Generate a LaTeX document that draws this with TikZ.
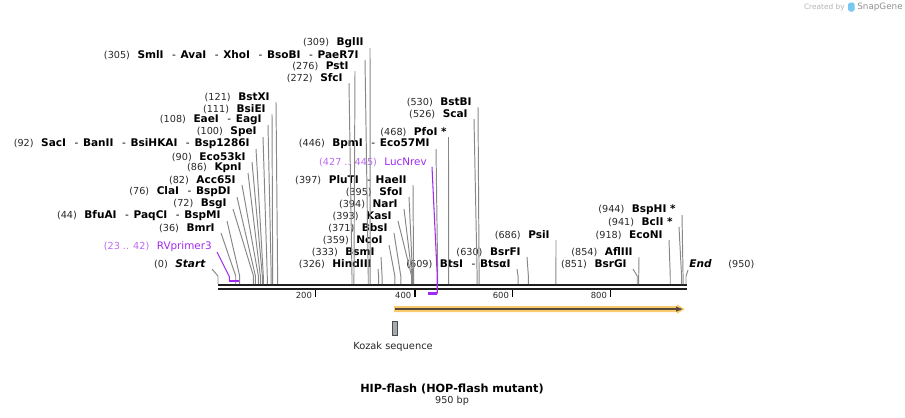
\documentclass[tikz,border=0pt]{standalone}
\usepackage{fontspec}
\setmainfont{DejaVu Sans}
\usetikzlibrary{calc}
\definecolor{primer}{RGB}{160,40,240}
\definecolor{featfill}{RGB}{250,202,110}
\definecolor{featline}{RGB}{88,74,56}
\definecolor{kozakfill}{RGB}{165,170,176}
\definecolor{numgray}{RGB}{40,40,40}
\definecolor{leadgray}{RGB}{135,135,135}
\definecolor{markgray}{RGB}{180,180,180}
\definecolor{logoblue}{RGB}{120,200,240}
\newcommand{\numfont}{\fontsize{5.5}{6.5}\selectfont\mdseries\color{numgray}}
\newcommand{\pos}[1]{{\numfont(#1)}\hspace{4.3pt}}
\newcommand{\sep}{\hspace{4.8pt}{\mdseries-}\hspace{2.7pt}}
\newcommand{\bpx}[1]{218+0.49263*#1}
\tikzstyle{enz}=[anchor=east, inner sep=0pt, font=\fontsize{6}{7}\selectfont\bfseries]
\tikzstyle{primerlabel}=[anchor=east, inner sep=0pt, font=\fontsize{5.9}{7}\selectfont, text=primer]
\tikzstyle{cut}=[draw=leadgray, line width=0.55pt]
\tikzstyle{primercut}=[draw=primer, line width=0.6pt]
\tikzstyle{backbone}=[draw=black!88, line width=1.3pt]
\tikzstyle{tick}=[draw=black, line width=0.85pt]
\tikzstyle{ticklabel}=[anchor=east, inner sep=0pt, font=\fontsize{4.8}{5.5}\selectfont, text=numgray]
\tikzstyle{caption}=[inner sep=0pt, font=\fontsize{5.6}{6.5}\selectfont, text=black!85]

\begin{document}
\begin{tikzpicture}[x=0.02cm, y=-0.02cm]
\useasboundingbox (0,0) rectangle (905,417);

\node (created) [anchor=east, inner sep=0pt, font=\fontsize{4.2}{5}\selectfont, text=markgray] at (845,7) {Created by};
\fill[logoblue, rounded corners=1pt] (848,2.5) rectangle (854.5,11.5);
\node (snapgene) [anchor=west, inner sep=0pt, font=\fontsize{5}{6}\selectfont, text=markgray!80!black] at (857,7) {SnapGene};

\draw[backbone] (218,285.1) -- (686.5,285.1);
\draw[backbone] (218,288.9) -- (686.5,288.9);
\coordinate (bbtop) at (218,284);

\draw[tick] (315.7,290) -- (315.7,296.5);
\draw[tick] (415,290) -- (415,296.5);
\draw[tick] (512.7,290) -- (512.7,296.5);
\draw[tick] (610.7,290) -- (610.7,296.5);
\node (t200) [ticklabel] at (312.3,295.5) {200};
\node (t400) [ticklabel] at (411.6,295.5) {400};
\node (t600) [ticklabel] at (509.3,295.5) {600};
\node (t800) [ticklabel] at (607.3,295.5) {800};

\coordinate (c0) at ({\bpx{0}},284);
\coordinate (c36) at ({\bpx{36}},284);
\coordinate (c44) at ({\bpx{44}},284);
\coordinate (c72) at ({\bpx{72}},284);
\coordinate (c76) at ({\bpx{76}},284);
\coordinate (c82) at ({\bpx{82}},284);
\coordinate (c86) at ({\bpx{86}},284);
\coordinate (c90) at ({\bpx{90}},284);
\coordinate (c92) at ({\bpx{92}},284);
\coordinate (c100) at ({\bpx{100}},284);
\coordinate (c108) at ({\bpx{108}},284);
\coordinate (c111) at ({\bpx{111}},284);
\coordinate (c121) at ({\bpx{121}},284);
\coordinate (c272) at ({\bpx{272}},284);
\coordinate (c276) at ({\bpx{276}},284);
\coordinate (c305) at ({\bpx{305}},284);
\coordinate (c309) at ({\bpx{309}},284);
\coordinate (c326) at ({\bpx{326}},284);
\coordinate (c333) at ({\bpx{333}},284);
\coordinate (c359) at ({\bpx{359}},284);
\coordinate (c371) at ({\bpx{371}},284);
\coordinate (c393) at ({\bpx{393}},284);
\coordinate (c394) at ({\bpx{394}},284);
\coordinate (c395) at ({\bpx{395}},284);
\coordinate (c397) at ({\bpx{397}},284);
\coordinate (c446) at ({\bpx{446}},284);
\coordinate (c468) at ({\bpx{468}},284);
\coordinate (c526) at ({\bpx{526}},284);
\coordinate (c530) at ({\bpx{530}},284);
\coordinate (c609) at ({\bpx{609}},284);
\coordinate (c630) at ({\bpx{630}},284);
\coordinate (c686) at ({\bpx{686}},284);
\coordinate (c851) at ({\bpx{851}},284);
\coordinate (c854) at ({\bpx{854}},284);
\coordinate (c918) at ({\bpx{918}},284);
\coordinate (c941) at ({\bpx{941}},284);
\coordinate (c944) at ({\bpx{944}},284);
\coordinate (c950) at ({\bpx{950}},284);
\coordinate (rvstart) at ({\bpx{23}},280.7);
\coordinate (rvend) at ({\bpx{42}},280.7);
\coordinate (lucstart) at ({\bpx{427}},293.5);
\coordinate (lucend) at ({\bpx{445}},293.5);

\node (n309) [enz] at (364,43) {\pos{309}BglII};
\node (n305) [enz] at (359,55) {\pos{305}SmlI\sep AvaI\sep XhoI\sep BsoBI\sep PaeR7I};
\node (n276) [enz] at (349,66) {\pos{276}PstI};
\node (n272) [enz] at (343,78) {\pos{272}SfcI};
\node (n121) [enz] at (270,97) {\pos{121}BstXI};
\node (n111) [enz] at (266,109) {\pos{111}BsiEI};
\node (n108) [enz] at (262,120) {\pos{108}EaeI\sep EagI};
\node (n100) [enz] at (257,132) {\pos{100}SpeI};
\node (n92) [enz] at (250,144) {\pos{92}SacI\sep BanII\sep BsiHKAI\sep Bsp1286I};
\node (n90) [enz] at (246,157) {\pos{90}Eco53kI};
\node (n86) [enz] at (242,168) {\pos{86}KpnI};
\node (n82) [enz] at (236,180) {\pos{82}Acc65I};
\node (n76) [enz] at (231,192) {\pos{76}ClaI\sep BspDI};
\node (n72) [enz] at (227,204) {\pos{72}BsgI};
\node (n44) [enz] at (221,216) {\pos{44}BfuAI\sep PaqCI\sep BspMI};
\node (n36) [enz] at (215,228) {\pos{36}BmrI};
\node (rvprimer) [primerlabel] at (212,247) {{\numfont\color{primer!70}(23 .. 42)}\hspace{4.3pt}RVprimer3};
\node (start) [enz] at (206,264) {\pos{0}\textit{Start}};
\node (n530) [enz] at (472,102) {\pos{530}BstBI};
\node (n526) [enz] at (468,114) {\pos{526}ScaI};
\node (n468) [enz] at (447,132) {\pos{468}PfoI *};
\node (n446) [enz] at (430,144) {\pos{446}BpmI\sep Eco57MI};
\node (lucnrev) [primerlabel] at (427,162) {{\numfont\color{primer!70}(427 .. 445)}\hspace{4.3pt}LucNrev};
\node (n397) [enz] at (407,180) {\pos{397}PluTI\sep HaeII};
\node (n395) [enz] at (403,192) {\pos{395}SfoI};
\node (n394) [enz] at (398,204) {\pos{394}NarI};
\node (n393) [enz] at (392,216) {\pos{393}KasI};
\node (n371) [enz] at (388,228) {\pos{371}BbsI};
\node (n359) [enz] at (383,240) {\pos{359}NcoI};
\node (n333) [enz] at (375,252) {\pos{333}BsmI};
\node (n326) [enz] at (372,264) {\pos{326}HindIII};
\node (n630) [enz] at (521,252) {\pos{630}BsrFI};
\node (n609) [enz] at (511,264) {\pos{609}BtsI\sep BtsαI};
\node (n686) [enz] at (550,235) {\pos{686}PsiI};
\node (n944) [enz] at (676,210) {\pos{944}BspHI *};
\node (n941) [enz] at (673,222) {\pos{941}BclI *};
\node (n918) [enz] at (663,235) {\pos{918}EcoNI};
\node (n854) [enz] at (633,252) {\pos{854}AflIII};
\node (n851) [enz] at (627,264) {\pos{851}BsrGI};
\node (endlabel) [enz, anchor=west] at (689,264) {\textit{End}\hspace{9.5pt}{\numfont(950)}};

\draw[cut] ([shift={(6,5)}]n309.east) -- ($(c309)+(0,-8)$) -- (c309);
\draw[cut] ([shift={(6,5)}]n305.east) -- ($(c305)+(0,-8)$) -- (c305);
\draw[cut] ([shift={(6,5)}]n276.east) -- ($(c276)+(0,-8)$) -- (c276);
\draw[cut] ([shift={(6,5)}]n272.east) -- ($(c272)+(0,-8)$) -- (c272);
\draw[cut] ([shift={(6,5)}]n121.east) -- ($(c121)+(0,-8)$) -- (c121);
\draw[cut] ([shift={(6,5)}]n111.east) -- ($(c111)+(0,-8)$) -- (c111);
\draw[cut] ([shift={(6,5)}]n108.east) -- ($(c108)+(0,-8)$) -- (c108);
\draw[cut] ([shift={(6,5)}]n100.east) -- ($(c100)+(0,-8)$) -- (c100);
\draw[cut] ([shift={(6,5)}]n92.east) -- ($(c92)+(0,-8)$) -- (c92);
\draw[cut] ([shift={(6,5)}]n90.east) -- ($(c90)+(0,-8)$) -- (c90);
\draw[cut] ([shift={(6,5)}]n86.east) -- ($(c86)+(0,-8)$) -- (c86);
\draw[cut] ([shift={(6,5)}]n82.east) -- ($(c82)+(0,-8)$) -- (c82);
\draw[cut] ([shift={(6,5)}]n76.east) -- ($(c76)+(0,-8)$) -- (c76);
\draw[cut] ([shift={(6,5)}]n72.east) -- ($(c72)+(0,-8)$) -- (c72);
\draw[cut] ([shift={(6,5)}]n44.east) -- ($(c44)+(0,-8)$) -- (c44);
\draw[cut] ([shift={(6,5)}]n36.east) -- ($(c36)+(0,-8)$) -- (c36);
\draw[cut] ([shift={(6,5)}]start.east) -- ($(c0)+(0,-8)$) -- (c0);
\draw[cut] ([shift={(6,5)}]n530.east) -- ($(c530)+(0,-8)$) -- (c530);
\draw[cut] ([shift={(6,5)}]n526.east) -- ($(c526)+(0,-8)$) -- (c526);
\draw[cut] ([shift={(1.5,5)}]n468.east) -- ($(c468)+(0,-8)$) -- (c468);
\draw[cut] ([shift={(6,5)}]n446.east) -- ($(c446)+(0,-8)$) -- (c446);
\draw[cut] ([shift={(6,5)}]n397.east) -- ($(c397)+(0,-8)$) -- (c397);
\draw[cut] ([shift={(6,5)}]n395.east) -- ($(c395)+(0,-8)$) -- (c395);
\draw[cut] ([shift={(6,5)}]n394.east) -- ($(c394)+(0,-8)$) -- (c394);
\draw[cut] ([shift={(6,5)}]n393.east) -- ($(c393)+(0,-8)$) -- (c393);
\draw[cut] ([shift={(6,5)}]n371.east) -- ($(c371)+(0,-8)$) -- (c371);
\draw[cut] ([shift={(6,5)}]n359.east) -- ($(c359)+(0,-8)$) -- (c359);
\draw[cut] ([shift={(6,5)}]n333.east) -- ($(c333)+(0,-8)$) -- (c333);
\draw[cut] ([shift={(6,5)}]n326.east) -- ($(c326)+(0,-8)$) -- (c326);
\draw[cut] ([shift={(6,5)}]n630.east) -- ($(c630)+(0,-8)$) -- (c630);
\draw[cut] ([shift={(6,5)}]n609.east) -- ($(c609)+(0,-8)$) -- (c609);
\draw[cut] ([shift={(6,5)}]n686.east) -- ($(c686)+(0,-8)$) -- (c686);
\draw[cut] ([shift={(6,5)}]n944.east) -- ($(c944)+(0,-8)$) -- (c944);
\draw[cut] ([shift={(6,5)}]n941.east) -- ($(c941)+(0,-8)$) -- (c941);
\draw[cut] ([shift={(6,5)}]n918.east) -- ($(c918)+(0,-8)$) -- (c918);
\draw[cut] ([shift={(6,5)}]n854.east) -- ($(c854)+(0,-8)$) -- (c854);
\draw[cut] ([shift={(6,5)}]n851.east) -- ($(c851)+(0,-8)$) -- (c851);
\draw[cut] ([shift={(-1,6)}]endlabel.west) -- ($(c950)+(0,-8)$) -- (c950);

\draw[primercut] ([shift={(5,5)}]rvprimer.east) -- ($(rvstart)+(0,-4)$) -- (rvstart);
\draw[primer, line width=1.2pt] (rvstart) -- (rvend);
\draw[primercut] ([shift={(5,5)}]lucnrev.east) -- ($(lucend)+(0,-18)$) -- (lucend);
\draw[primer, line width=1.2pt] (lucstart) -- (lucend);

\fill[featfill] (394,306.2) -- (677,306.2) -- (677,304.3) -- (684.5,309.1) -- (677,313.9) -- (677,312) -- (394,312) -- cycle;
\draw[featline, line width=1pt] (395,309.1) -- (677,309.1);
\fill[featline] (676,306.5) -- (682.5,309.1) -- (676,311.7) -- cycle;

\draw[draw=black!70, fill=kozakfill, line width=0.6pt] (392.6,321.3) rectangle (397.4,335.3);
\node (kozak) [caption] at (393,347) {Kozak sequence};

\node (title) [inner sep=0pt, font=\fontsize{6.4}{7.5}\selectfont\bfseries] at (452,389) {HIP-flash (HOP-flash mutant)};
\node (length) [caption, font=\fontsize{5.5}{6.5}\selectfont] at (452,401) {950 bp};
\end{tikzpicture}
\end{document}
